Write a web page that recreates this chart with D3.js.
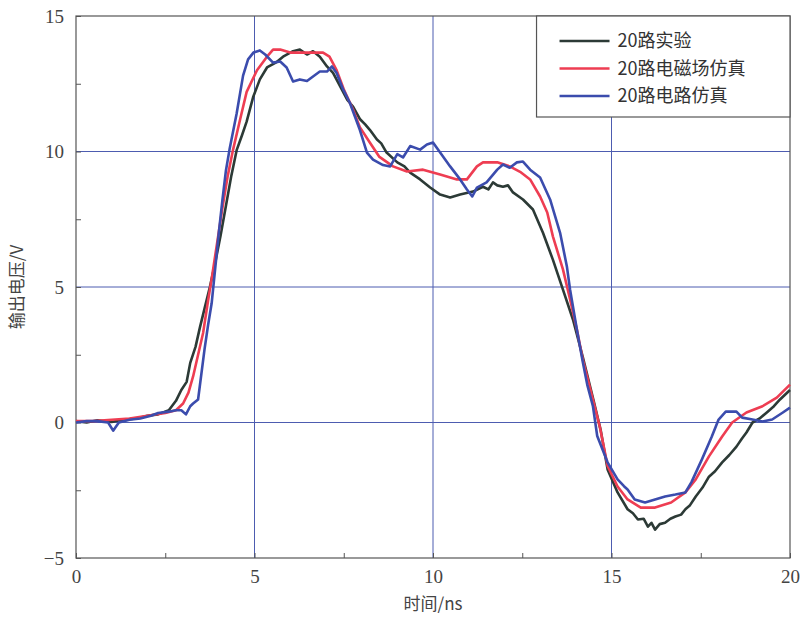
<!DOCTYPE html>
<html>
<head>
<meta charset="utf-8">
<script src="https://cdn.jsdelivr.net/npm/d3@7"></script>
<style>
  html, body { margin: 0; padding: 0; background: #fff; overflow: hidden; }
  svg { display: block; position: absolute; left: 0; top: 0; }
</style>
</head>
<body><svg id="chart"></svg><script>
// series: [time ns, voltage V]
const seriesNames = ["20路实验", "20路电磁场仿真", "20路电路仿真"];
const seriesColors = ["#2c3a36", "#ee3d52", "#3b4cad"];

const expData = [[0,0.05],[0.3,0.0],[0.6,0.08],[1.0,0.02],[1.3,0.1],[1.7,0.15],[2.0,0.25],[2.3,0.3],[2.6,0.45],[2.8,0.8],[2.95,1.2],[3.1,1.5],[3.2,2.2],[3.35,2.8],[3.47,3.5],[3.6,4.2],[3.75,5.0],[3.9,5.9],[4.05,6.9],[4.2,8.0],[4.35,9.1],[4.5,10.05],[4.65,10.6],[4.78,11.1],[4.96,12.0],[5.15,12.66],[5.35,13.1],[5.62,13.3],[5.8,13.5],[6.08,13.7],[6.27,13.76],[6.47,13.58],[6.64,13.7],[6.83,13.5],[7.03,13.14],[7.2,12.9],[7.4,12.4],[7.6,11.9],[7.76,11.66],[7.95,11.2],[8.1,11.0],[8.23,10.8],[8.43,10.44],[8.55,10.3],[8.7,9.96],[9.0,9.6],[9.2,9.45],[9.36,9.22],[9.64,8.97],[9.92,8.67],[10.2,8.41],[10.48,8.3],[10.76,8.41],[11.12,8.52],[11.4,8.7],[11.55,8.6],[11.68,8.86],[11.8,8.75],[11.96,8.7],[12.1,8.75],[12.24,8.49],[12.52,8.23],[12.8,7.86],[13.08,7.0],[13.36,6.0],[13.64,4.9],[13.92,3.8],[14.2,2.4],[14.5,0.8],[14.7,-0.3],[14.89,-1.73],[15.17,-2.58],[15.45,-3.2],[15.6,-3.35],[15.74,-3.58],[15.9,-3.55],[16.02,-3.84],[16.12,-3.7],[16.22,-3.95],[16.35,-3.75],[16.5,-3.7],[16.65,-3.55],[16.79,-3.47],[16.95,-3.4],[17.07,-3.2],[17.2,-3.05],[17.36,-2.73],[17.55,-2.4],[17.73,-2.0],[17.9,-1.8],[18.1,-1.47],[18.3,-1.2],[18.5,-0.89],[18.65,-0.6],[18.78,-0.37],[18.95,0],[19.15,0.15],[19.35,0.37],[19.55,0.6],[19.72,0.85],[20,1.2]];

const emData = [[0,0.05],[0.5,0.05],[1.0,0.1],[1.5,0.15],[2.0,0.25],[2.5,0.35],[2.8,0.45],[3.0,0.7],[3.15,1.1],[3.28,1.7],[3.42,2.5],[3.56,3.3],[3.7,4.5],[3.8,5.3],[3.95,6.6],[4.1,7.9],[4.25,9.1],[4.4,10.07],[4.6,11.2],[4.78,12.2],[5.07,13.0],[5.35,13.5],[5.52,13.76],[5.72,13.76],[6.0,13.65],[6.27,13.65],[6.64,13.65],[6.92,13.65],[7.1,13.5],[7.3,13.0],[7.5,12.3],[7.76,11.55],[7.95,10.9],[8.23,10.33],[8.5,9.8],[8.88,9.45],[9.27,9.26],[9.72,9.33],[10.2,9.15],[10.67,8.97],[10.95,8.97],[11.23,9.45],[11.4,9.6],[11.8,9.6],[12.15,9.45],[12.44,9.25],[12.72,8.97],[13.0,8.34],[13.2,7.75],[13.36,6.86],[13.64,5.65],[13.84,4.54],[14.03,3.43],[14.2,2.3],[14.48,0.85],[14.68,-0.2],[14.89,-1.6],[15.17,-2.36],[15.45,-2.84],[15.82,-3.14],[16.22,-3.14],[16.67,-2.95],[17.07,-2.58],[17.36,-2.1],[17.73,-1.25],[18.1,-0.52],[18.38,0.0],[18.78,0.37],[19.23,0.6],[19.63,0.92],[20,1.4]];

const circuitData = [[0,0.0],[0.3,0.05],[0.6,0.05],[0.9,0.0],[1.04,-0.3],[1.2,0.0],[1.5,0.1],[1.8,0.15],[2.1,0.25],[2.3,0.35],[2.6,0.4],[2.8,0.45],[2.95,0.45],[3.08,0.3],[3.2,0.6],[3.28,0.7],[3.42,0.85],[3.6,2.7],[3.7,3.6],[3.8,4.4],[3.9,5.7],[4.0,7.0],[4.1,8.2],[4.2,9.3],[4.3,10.07],[4.5,11.4],[4.68,12.8],[4.82,13.4],[4.97,13.65],[5.15,13.73],[5.3,13.58],[5.52,13.28],[5.72,13.32],[5.9,13.1],[6.08,12.58],[6.27,12.66],[6.47,12.6],[6.64,12.77],[6.83,12.95],[7.03,12.95],[7.17,13.14],[7.3,12.9],[7.48,12.3],[7.67,11.8],[7.95,10.8],[8.15,9.96],[8.32,9.7],[8.6,9.5],[8.8,9.45],[9.0,9.9],[9.16,9.78],[9.36,10.2],[9.64,10.07],[9.83,10.26],[10.0,10.33],[10.2,9.96],[10.48,9.45],[10.76,8.97],[10.95,8.6],[11.1,8.34],[11.23,8.67],[11.5,8.86],[11.8,9.33],[11.96,9.52],[12.15,9.4],[12.35,9.6],[12.52,9.63],[12.72,9.33],[13.0,9.04],[13.28,8.23],[13.56,7.0],[13.75,5.76],[13.84,4.9],[14.03,3.43],[14.2,2.2],[14.32,1.4],[14.48,0.6],[14.6,-0.5],[14.89,-1.47],[15.17,-2.1],[15.35,-2.35],[15.45,-2.47],[15.65,-2.84],[15.94,-2.95],[16.22,-2.84],[16.5,-2.73],[16.79,-2.66],[17.07,-2.58],[17.24,-2.2],[17.53,-1.37],[17.81,-0.52],[18.0,0.11],[18.2,0.4],[18.5,0.4],[18.66,0.18],[18.95,0.11],[19.23,0.04],[19.5,0.11],[19.8,0.37],[20,0.55]];

const xTicks = [0, 5, 10, 15, 20];
const yTicks = [-5, 0, 5, 10, 15];
const xLabel = "时间/ns";
const yLabel = "输出电压/V";

const width = 804, height = 622;
const margin = {top: 16, right: 14, bottom: 64, left: 76};
const innerWidth = width - margin.left - margin.right;
const innerHeight = height - margin.top - margin.bottom;

const svg = d3.select("#chart").attr("width", width).attr("height", height);
const g = svg.append("g").attr("transform", `translate(${margin.left},${margin.top})`);

const x = d3.scaleLinear().domain([0, 20]).range([0, innerWidth]);
const y = d3.scaleLinear().domain([-5, 15]).range([innerHeight, 0]);

// grid
g.append("g").selectAll("line").data(xTicks.slice(1, -1)).enter().append("line")
	.attr("x1", d => x(d)).attr("x2", d => x(d))
	.attr("y1", 0).attr("y2", innerHeight)
	.attr("stroke", "#4d5cb0").attr("stroke-width", 1);
g.append("g").selectAll("line").data(yTicks.slice(1, -1)).enter().append("line")
	.attr("x1", 0).attr("x2", innerWidth)
	.attr("y1", d => y(d)).attr("y2", d => y(d))
	.attr("stroke", "#4d5cb0").attr("stroke-width", 1);

// minor ticks, pointing inward
const minorX = d3.range(0, 20.01, 2.5);
const minorY = d3.range(-5, 15.01, 2.5);
const minorBottom = g.append("g").attr("transform", `translate(0,${innerHeight})`)
	.call(d3.axisBottom(x).tickValues(minorX).tickSize(-5));
minorBottom.select(".domain").remove();
minorBottom.selectAll("text").remove();
minorBottom.selectAll("line").attr("stroke", "#555");
const minorLeft = g.append("g")
	.call(d3.axisLeft(y).tickValues(minorY).tickSize(-5));
minorLeft.select(".domain").remove();
minorLeft.selectAll("text").remove();
minorLeft.selectAll("line").attr("stroke", "#555");

// tick labels
const xAxis = g.append("g").attr("transform", `translate(0,${innerHeight})`)
	.call(d3.axisBottom(x).tickValues(xTicks).tickSize(0).tickPadding(12).tickFormat(d3.format("d")));
xAxis.select(".domain").remove();
xAxis.selectAll("text").attr("font-family", "'Liberation Serif', serif").attr("font-size", 19).attr("fill", "#444");

const yAxis = g.append("g")
	.call(d3.axisLeft(y).tickValues(yTicks).tickSize(0).tickPadding(12).tickFormat(d => d < 0 ? "\u2212" + Math.abs(d) : d));
yAxis.select(".domain").remove();
yAxis.selectAll("text").attr("font-family", "'Liberation Serif', serif").attr("font-size", 19).attr("fill", "#444");

// frame
g.append("rect").attr("width", innerWidth).attr("height", innerHeight)
	.attr("fill", "none").attr("stroke", "#555").attr("stroke-width", 1.2);

// curves
const line = d3.line().x(d => x(d[0])).y(d => y(d[1]));
const allSeries = [expData, emData, circuitData];
g.append("g").selectAll("path").data(allSeries).enter().append("path")
	.attr("d", line)
	.attr("fill", "none")
	.attr("stroke", (d, i) => seriesColors[i])
	.attr("stroke-width", 2.6)
	.attr("stroke-linejoin", "round");

// legend
const legendLeft = x(12.9);
const legend = g.append("g").attr("transform", `translate(${legendLeft},0)`);
legend.append("rect")
	.attr("width", innerWidth - legendLeft).attr("height", 101)
	.attr("fill", "#fff").attr("stroke", "#555").attr("stroke-width", 1.2);
seriesNames.forEach((name, i) => {
	const row = legend.append("g").attr("transform", `translate(0,${25 + i * 27.5})`);
	row.append("line").attr("x1", 23).attr("x2", 73)
		.attr("stroke", seriesColors[i]).attr("stroke-width", 2.6);
	row.append("text").attr("x", 81).attr("dy", "0.35em")
		.attr("font-family", "'Noto Sans CJK SC', sans-serif").attr("font-size", 18)
		.attr("fill", "#333").text(name);
});

// axis titles
svg.append("text")
	.attr("x", margin.left + innerWidth / 2).attr("y", 610)
	.attr("text-anchor", "middle")
	.attr("font-family", "'Noto Sans CJK SC', sans-serif").attr("font-size", 17)
	.attr("fill", "#444").text(xLabel);
svg.append("text")
	.attr("transform", `translate(23,${margin.top + innerHeight / 2}) rotate(-90)`)
	.attr("text-anchor", "middle")
	.attr("font-family", "'Noto Sans CJK SC', sans-serif").attr("font-size", 17)
	.attr("fill", "#444").text(yLabel);
</script></body>
</html>
